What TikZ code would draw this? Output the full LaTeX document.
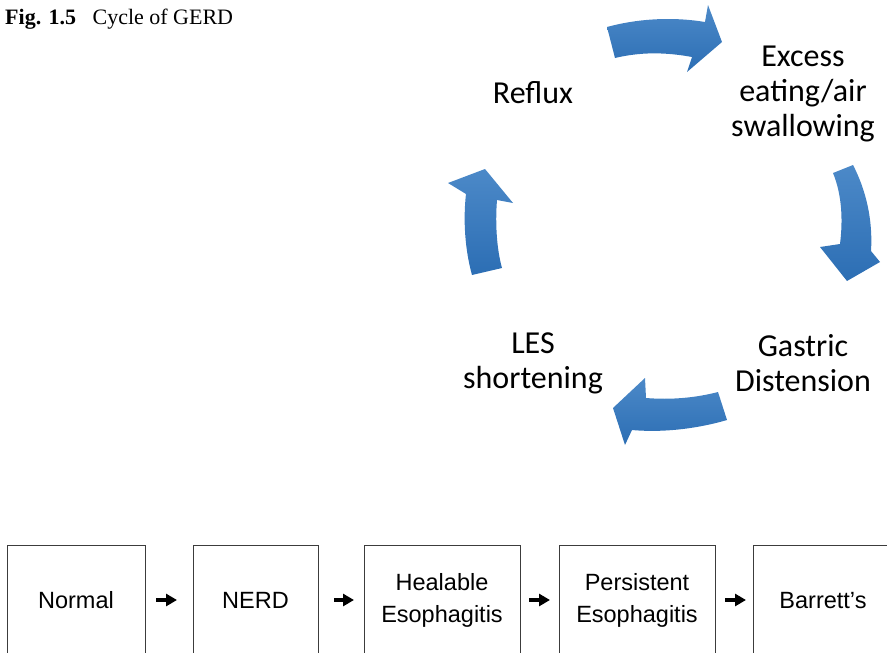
\documentclass[tikz,border=0pt]{standalone}
\usepackage{fontspec}
\setmainfont{Liberation Serif}
\newfontfamily\calfont{Carlito}
\newfontfamily\arialfont{Liberation Sans}
\usetikzlibrary{arrows.meta}
\definecolor{cycblue}{RGB}{56,124,194}
\definecolor{cycbluedark}{RGB}{44,110,180}
\definecolor{boxgray}{RGB}{60,60,60}
\tikzset{
  cyctext/.style={align=center, font=\calfont\fontsize{32}{35}\selectfont, text=black, inner sep=0pt},
  stagebox/.style={draw=boxgray, line width=0.9pt, inner sep=0pt, align=center, font=\arialfont\fontsize{23.5}{32}\selectfont},
  bigarrow/.style={draw=none, top color=cycblue!90!white, bottom color=cycbluedark},
  smallarrow/.style={line width=4pt, -{Triangle[length=11pt,width=12pt]}, black}
}
\begin{document}
\begin{tikzpicture}[x=1pt,y=-1pt]
\useasboundingbox (0,0) rectangle (887,653);
\clip (0,0) rectangle (887,653);
% caption
\node[anchor=base west, inner sep=0pt, font=\fontsize{22}{24}\selectfont] (cap) at (5,24) {\textbf{Fig. 1.5}\hspace{0.75em}Cycle of GERD};
% cycle texts
\node[cyctext] (reflux) at (533,93) {Reflux};
\node[cyctext] (excess) at (803,94) {Excess\\eating/air\\swallowing};
\node[cyctext] (gastric) at (803,363) {Gastric\\Distension};
\node[cyctext] (les) at (533,363) {LES\\shortening};
% curved arrows
\path[bigarrow] (607,27) .. controls (640,18) and (675,17) .. (705,22) -- (708,5) -- (722,42) -- (687,72) -- (692,57) .. controls (665,52) and (640,52) .. (615,58) -- cycle;
\path[bigarrow] (833,173) .. controls (842,195) and (843,220) .. (840,244) -- (820,247) -- (847,281) -- (880,262) -- (871,251) .. controls (873,220) and (866,190) .. (853,165) -- cycle;
\path[bigarrow] (718,392) .. controls (695,398) and (670,400) .. (646,398) -- (645,378) -- (613,408) -- (625,445) -- (632,430) .. controls (665,433) and (700,428) .. (727,420) -- cycle;
\path[bigarrow] (472,275) .. controls (465,250) and (463,220) .. (466,194) -- (448,183) -- (485,169) -- (513,203) -- (497,200) .. controls (495,225) and (497,250) .. (502,268) -- cycle;
% stage boxes
\node[stagebox, minimum width=138pt, minimum height=111pt] (normal) at (76,600.5) {Normal};
\node[stagebox, minimum width=125pt, minimum height=111pt] (nerd) at (255.5,600.5) {NERD};
\node[stagebox, minimum width=156pt, minimum height=111pt] (heal) at (442,600.5) {Healable\\Esophagitis};
\node[stagebox, minimum width=156pt, minimum height=111pt] (pers) at (637,600.5) {Persistent\\Esophagitis};
\node[stagebox, minimum width=150pt, minimum height=111pt] (barr) at (828,600.5) {\hspace*{-10pt}Barrett’s};
% small arrows
\coordinate (a1s) at (156,600); \coordinate (a1e) at (177,600);
\coordinate (a2s) at (334,600); \coordinate (a2e) at (354,600);
\coordinate (a3s) at (529,600); \coordinate (a3e) at (550,600);
\coordinate (a4s) at (725,600); \coordinate (a4e) at (746,600);
\draw[smallarrow] (a1s) -- (a1e);
\draw[smallarrow] (a2s) -- (a2e);
\draw[smallarrow] (a3s) -- (a3e);
\draw[smallarrow] (a4s) -- (a4e);
\end{tikzpicture}
\end{document}
